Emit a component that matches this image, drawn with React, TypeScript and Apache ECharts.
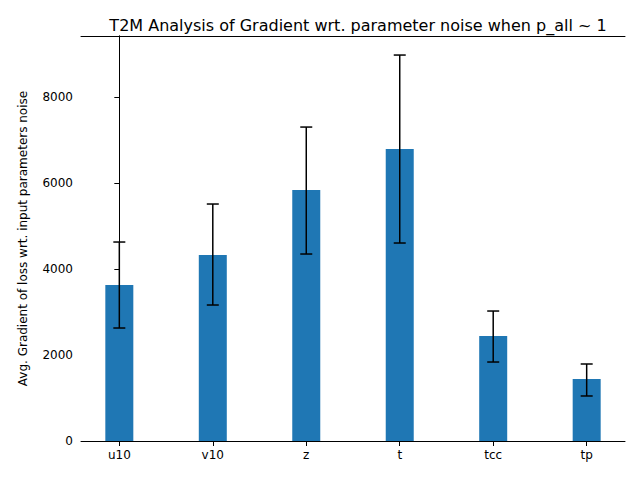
import React, { useEffect, useRef } from 'react';
import * as echarts from 'echarts';

const categories = ['u10', 'v10', 'z', 't', 'tcc', 'tp'];
const means = [3628, 4326, 5837, 6791, 2442, 1442];
const errLow = [2628, 3163, 4349, 4605, 1837, 1047];
const errHigh = [4628, 5512, 7302, 8977, 3023, 1791];
const positions = [0, 1, 2, 3, 4, 5];

const App: React.FC = () => {
  const chartRef = useRef<HTMLDivElement | null>(null);

  useEffect(() => {
    if (!chartRef.current) return;
    const chart = echarts.init(chartRef.current, undefined, { renderer: 'svg' });
    const font = 'DejaVu Sans';
    const black = { color: '#000' };
    chart.setOption({
      animation: false,
      textStyle: { fontFamily: font },
      title: {
        text: 'T2M Analysis of Gradient wrt. parameter noise when p_all ~ 1',
        left: 353,
        textAlign: 'center',
        top: 12,
        textStyle: { fontFamily: font, fontSize: 16, fontWeight: 'normal', color: '#000' },
      },
      grid: { left: 81, right: 15, top: 36, bottom: 39 },
      xAxis: [
        {
          type: 'value',
          min: -0.41,
          max: 5.41,
          splitLine: { show: false },
          axisLine: { onZero: false, lineStyle: black },
          axisTick: { customValues: positions, lineStyle: black },
          axisLabel: {
            customValues: positions,
            color: '#000',
            fontSize: 12,
            fontFamily: font,
            formatter: (v: number) => categories[Math.round(v)] ?? '',
          },
        },
        {
          type: 'value',
          position: 'top',
          min: -0.41,
          max: 5.41,
          splitLine: { show: false },
          axisLine: { onZero: false, lineStyle: black },
          axisTick: { show: false },
          axisLabel: { show: false },
        },
      ],
      yAxis: [
        {
          type: 'value',
          min: 0,
          max: 9420,
          interval: 2000,
          name: 'Avg. Gradient of loss wrt. input parameters noise',
          nameLocation: 'middle',
          nameGap: 52,
          nameTextStyle: { color: '#000', fontSize: 12, fontFamily: font },
          axisLine: { show: true, lineStyle: black },
          axisTick: { show: true, lineStyle: black },
          axisLabel: {
            color: '#000',
            fontSize: 12,
            fontFamily: font,
            showMaxLabel: false,
            formatter: (v: number) => String(v),
          },
          splitLine: { show: false },
        },
        {
          type: 'value',
          position: 'right',
          min: 0,
          max: 9420,
          axisLine: { show: true, lineStyle: black },
          axisTick: { show: false },
          axisLabel: { show: false },
          splitLine: { show: false },
        },
      ],
      series: [
        {
          type: 'bar',
          data: positions.map((p, i) => [p, means[i]]),
          barWidth: 28,
          itemStyle: { color: '#1f77b4' },
        },
        {
          type: 'custom',
          data: positions.map((p, i) => [p, errLow[i], errHigh[i]]),
          renderItem: (_params: any, api: any) => {
            const x = api.value(0);
            const lo = api.coord([x, api.value(1)]);
            const hi = api.coord([x, api.value(2)]);
            const cap = 6;
            const style = { stroke: '#000', lineWidth: 1.5 };
            return {
              type: 'group',
              children: [
                { type: 'line', shape: { x1: lo[0], y1: lo[1], x2: hi[0], y2: hi[1] }, style },
                { type: 'line', shape: { x1: lo[0] - cap, y1: lo[1], x2: lo[0] + cap, y2: lo[1] }, style },
                { type: 'line', shape: { x1: hi[0] - cap, y1: hi[1], x2: hi[0] + cap, y2: hi[1] }, style },
              ],
            };
          },
          z: 10,
        },
      ],
    });
    return () => chart.dispose();
  }, []);

  return <div ref={chartRef} style={{ width: 640, height: 480, position: 'absolute', left: 0, top: 0, background: '#fff' }} />;
};

export default App;
